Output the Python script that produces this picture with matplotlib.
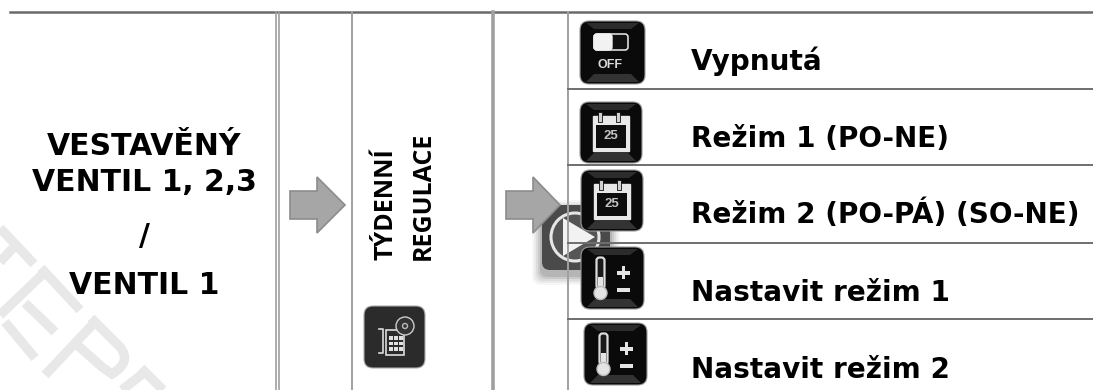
import matplotlib
matplotlib.use("Agg")
import matplotlib.pyplot as plt
from matplotlib.patches import FancyBboxPatch, Polygon, Rectangle, Circle, PathPatch
from matplotlib.path import Path

# Texts of the table
levy_text = ["VESTAVĚNÝ", "VENTIL 1, 2,3", "/", "VENTIL 1"]
levy_y = [155, 191, 245, 294]
sloupec_text = ["TÝDENNÍ", "REGULACE"]
sloupec_x = [386, 423]
rezimy = ["Vypnutá", "Režim 1 (PO-NE)", "Režim 2 (PO-PÁ) (SO-NE)", "Nastavit režim 1", "Nastavit režim 2"]
rezimy_y = [70, 147, 223, 301, 378]
svisle_x = [276, 279, 352, 493, 568]
svisle_sirka = [1.2, 1.2, 1.4, 2.6, 1.4]
vodorovne_y = [89, 165, 243, 319]

fig = plt.figure(figsize=(10.93, 3.90), dpi=100)
ax = fig.add_axes([0, 0, 1, 1])
ax.set_xlim(0, 1093)
ax.set_ylim(390, 0)
ax.axis("off")


def vodoznak():
    # watermark letters, rotated by 45 degrees
    c = "#e8e8e8"
    pruhy = [
        [(0, 228), (34, 264)], [(13, 248), (0, 262)],
        [(45, 272), (0, 315)], [(41, 268), (80, 310)], [(25, 303), (55, 332)], [(5, 322), (35, 358)],
        [(95, 322), (45, 375)],
        [(145, 372), (122, 390)], [(141, 368), (163, 390)],
    ]
    for p in pruhy:
        ax.plot([p[0][0], p[1][0]], [p[0][1], p[1][1]], color=c, lw=6.8, zorder=0, solid_capstyle="butt")
    bricho = Path([(91, 318), (120, 347), (132, 362), (112, 374), (102, 367), (75, 343)],
                  [Path.MOVETO, Path.LINETO, Path.CURVE3, Path.CURVE3, Path.LINETO, Path.LINETO])
    ax.add_patch(PathPatch(bricho, fc="none", ec=c, lw=6.8, zorder=0, capstyle="butt"))


def sipka(x0, xs, xe, y):
    body = [(x0, y - 14), (xs, y - 14), (xs, y - 28), (xe, y), (xs, y + 28), (xs, y + 14), (x0, y + 14)]
    ax.add_patch(Polygon(body, closed=True, fc="#a6a6a6", ec="#8c8c8c", lw=1.2, zorder=3))


def ikona(x, y, w, h):
    ax.add_patch(FancyBboxPatch((x + 7, y + 7), w - 14, h - 14, boxstyle="round,pad=7,rounding_size=9",
                                fc="#0a0a0a", ec="#9a9a9a", lw=0.8, zorder=5))
    ax.add_patch(Polygon([(x + 6, y + 2), (x + w - 6, y + 2), (x + w - 14, y + 8), (x + 14, y + 8)],
                         closed=True, fc="#2c2c2c", ec="none", zorder=6))
    ax.add_patch(Polygon([(x + 6, y + h - 2), (x + w - 6, y + h - 2), (x + w - 14, y + h - 10), (x + 14, y + h - 10)],
                         closed=True, fc="#333333", ec="none", zorder=6))


def ikona_off(x, y):
    ikona(x, y, 65, 63)
    ax.add_patch(FancyBboxPatch((x + 15, y + 14), 32, 14, boxstyle="round,pad=1,rounding_size=3",
                                fc="#111111", ec="#dddddd", lw=1.2, zorder=7))
    ax.add_patch(FancyBboxPatch((x + 15, y + 14), 16, 14, boxstyle="round,pad=1,rounding_size=3",
                                fc="#f2f2f2", ec="#f2f2f2", lw=1, zorder=8))
    ax.text(x + 30, y + 44, "OFF", color="#d9d9d9", fontsize=9, fontweight="bold",
            family="Liberation Sans", ha="center", va="center", zorder=8)


def ikona_kalendar(x, y):
    ikona(x, y, 62, 61)
    ax.add_patch(Rectangle((x + 13, y + 14), 36, 35, fc="#e8e8e8", ec="#e8e8e8", lw=1, zorder=7))
    ax.add_patch(Rectangle((x + 16, y + 23), 30, 23, fc="#0d0d0d", ec="none", zorder=7))
    for dx in [20, 38]:
        ax.add_patch(Rectangle((x + dx - 2, y + 10), 4, 10, fc="#d0d0d0", ec="#0d0d0d", lw=0.6, zorder=8))
    ax.text(x + 30.5, y + 34, "25", color="#c4c4c4", fontsize=9.5, fontweight="bold",
            family="Liberation Sans", ha="center", va="center", zorder=8)


def ikona_teplomer(x, y):
    ikona(x, y, 63, 62)
    ax.add_patch(FancyBboxPatch((x + 17, y + 12), 5, 28, boxstyle="round,pad=1.5,rounding_size=3",
                                fc="#1a1a1a", ec="#dcdcdc", lw=1.6, zorder=7))
    ax.add_patch(Rectangle((x + 17, y + 30), 5, 12, fc="#e4e4e4", ec="none", zorder=8))
    ax.add_patch(Circle((x + 19.5, y + 46), 6.5, fc="#e4e4e4", ec="#bbbbbb", lw=1, zorder=8))
    ax.add_patch(Rectangle((x + 36, y + 24), 13, 3.5, fc="#e4e4e4", ec="none", zorder=8))
    ax.add_patch(Rectangle((x + 40.5, y + 19), 3.5, 13, fc="#e4e4e4", ec="none", zorder=8))
    ax.add_patch(Rectangle((x + 36, y + 41), 13, 3.5, fc="#e4e4e4", ec="none", zorder=8))


def ikona_tyden(x, y):
    ax.add_patch(FancyBboxPatch((x + 7, y + 7), 47, 48, boxstyle="round,pad=7,rounding_size=9",
                                fc="#2b2b2b", ec="#aaaaaa", lw=0.8, zorder=5))
    ax.add_patch(Rectangle((x + 22, y + 24), 18, 25, fc="#2b2b2b", ec="#dddddd", lw=1.2, zorder=7))
    for i in range(3):
        for j in range(3):
            ax.add_patch(Rectangle((x + 25 + 5 * i, y + 30 + 5.5 * j), 3.5, 3.5, fc="#e0e0e0", ec="none", zorder=8))
    ax.plot([x + 15, x + 19, x + 19, x + 15], [y + 23, y + 23, y + 47, y + 47], color="#dddddd", lw=1.2, zorder=8)
    ax.add_patch(Circle((x + 41, y + 20), 9, fc="#333333", ec="#cccccc", lw=1, zorder=8))
    ax.add_patch(Circle((x + 41, y + 20), 2.5, fc="none", ec="#bbbbbb", lw=1, zorder=9))


def prehravac():
    # play button of the page viewer, half hidden under the table
    for i, a in zip(range(5), [0.03, 0.05, 0.06, 0.08, 0.1]):
        g = 10 - 2 * i
        ax.add_patch(FancyBboxPatch((542 - g, 205 + 5 - g), 68 + 2 * g, 65 + 2 * g,
                                    boxstyle="round,pad=0,rounding_size=8", fc="black", ec="none", alpha=a, zorder=1))
    ax.add_patch(FancyBboxPatch((542, 205), 68, 65, boxstyle="round,pad=0,rounding_size=8",
                                fc="#4a4a4a", ec="none", zorder=2))
    ax.add_patch(Circle((575, 237), 24, fc="#555555", ec="#e6e6e6", lw=2.2, zorder=2))
    ax.add_patch(Polygon([(563, 218), (595, 237), (563, 256)], closed=True, fc="#f2f2f2", ec="none", zorder=2))


vodoznak()
prehravac()

ax.plot([10, 1093], [12, 12], color="#6b6b6b", lw=1.8, zorder=4)
for x, s in zip(svisle_x, svisle_sirka):
    ax.plot([x, x], [12, 390], color="#a0a0a0", lw=s, zorder=4)
for y in vodorovne_y:
    ax.plot([568, 1093], [y, y], color="#6e6e6e", lw=1.4, zorder=4)

sipka(290, 317, 345, 205)
sipka(506, 533, 560, 205)

for t, y in zip(levy_text, levy_y):
    ax.text(144, y, t, fontsize=21.5, fontweight="bold", ha="center", va="baseline", color="black", zorder=6)
for t, x in zip(sloupec_text, sloupec_x):
    ax.text(x, 260, t, fontsize=18, fontweight="bold", family="Open Sans", rotation=90,
            ha="center", va="bottom", color="black", zorder=6)
for t, y in zip(rezimy, rezimy_y):
    ax.text(691, y, t, fontsize=20.1, fontweight="bold", ha="left", va="baseline", color="black", zorder=6)

ikona_tyden(364, 306)
ikona_off(580, 21)
ikona_kalendar(580, 102)
ikona_kalendar(581, 170)
ikona_teplomer(581, 247)
ikona_teplomer(584, 323)

fig.savefig("out.png", dpi=100)
